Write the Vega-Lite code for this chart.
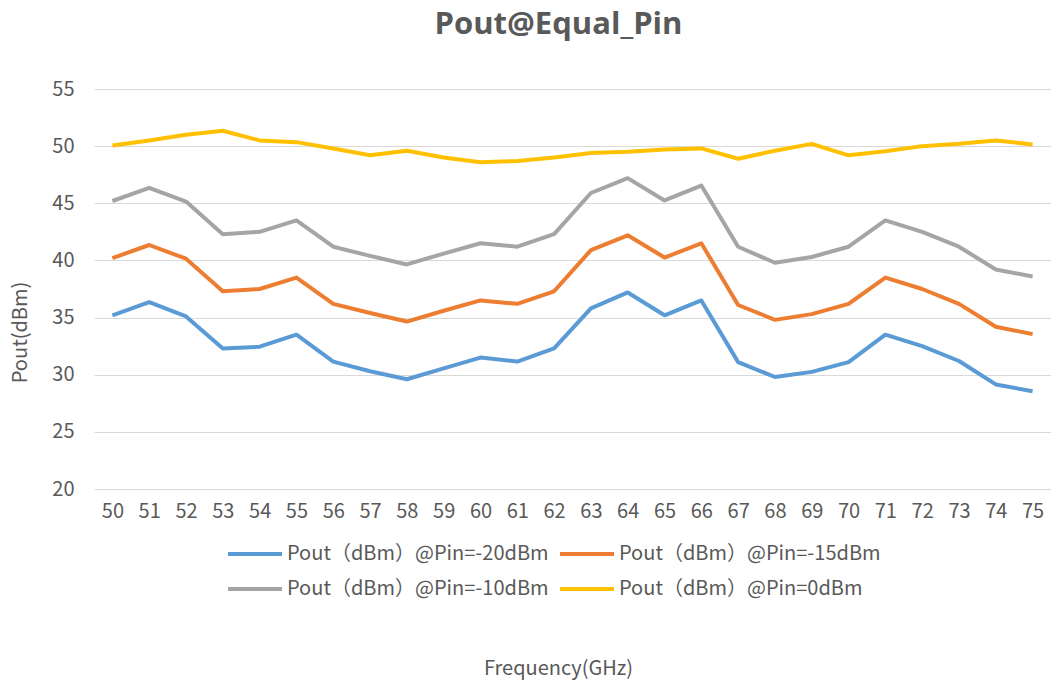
{
  "$schema": "https://vega.github.io/schema/vega-lite/v6.json",
  "width": 957,
  "height": 400,
  "autosize": {"type": "none"},
  "padding": {"left": 94, "top": 89, "right": 0, "bottom": 196},
  "background": "white",
  "title": {"text": "Pout@Equal_Pin", "font": "Open Sans", "fontSize": 31, "fontWeight": "bold", "color": "#595959", "anchor": "middle", "frame": "group", "dx": -14, "offset": 38},
  "config": {
    "view": {"stroke": null},
    "font": "Noto Sans CJK SC"
  },
  "data": {"values": [
    {"f":50,"s":"-20","v":35.2},{"f":51,"s":"-20","v":36.35},{"f":52,"s":"-20","v":35.1},{"f":53,"s":"-20","v":32.3},{"f":54,"s":"-20","v":32.45},{"f":55,"s":"-20","v":33.5},{"f":56,"s":"-20","v":31.15},{"f":57,"s":"-20","v":30.3},{"f":58,"s":"-20","v":29.6},{"f":59,"s":"-20","v":30.55},{"f":60,"s":"-20","v":31.5},{"f":61,"s":"-20","v":31.15},{"f":62,"s":"-20","v":32.3},{"f":63,"s":"-20","v":35.8},{"f":64,"s":"-20","v":37.2},{"f":65,"s":"-20","v":35.2},{"f":66,"s":"-20","v":36.5},{"f":67,"s":"-20","v":31.1},{"f":68,"s":"-20","v":29.8},{"f":69,"s":"-20","v":30.25},{"f":70,"s":"-20","v":31.1},{"f":71,"s":"-20","v":33.5},{"f":72,"s":"-20","v":32.5},{"f":73,"s":"-20","v":31.2},{"f":74,"s":"-20","v":29.15},{"f":75,"s":"-20","v":28.55},
    {"f":50,"s":"-15","v":40.2},{"f":51,"s":"-15","v":41.35},{"f":52,"s":"-15","v":40.15},{"f":53,"s":"-15","v":37.3},{"f":54,"s":"-15","v":37.5},{"f":55,"s":"-15","v":38.5},{"f":56,"s":"-15","v":36.2},{"f":57,"s":"-15","v":35.4},{"f":58,"s":"-15","v":34.65},{"f":59,"s":"-15","v":35.6},{"f":60,"s":"-15","v":36.5},{"f":61,"s":"-15","v":36.2},{"f":62,"s":"-15","v":37.3},{"f":63,"s":"-15","v":40.9},{"f":64,"s":"-15","v":42.2},{"f":65,"s":"-15","v":40.25},{"f":66,"s":"-15","v":41.5},{"f":67,"s":"-15","v":36.1},{"f":68,"s":"-15","v":34.8},{"f":69,"s":"-15","v":35.3},{"f":70,"s":"-15","v":36.2},{"f":71,"s":"-15","v":38.5},{"f":72,"s":"-15","v":37.5},{"f":73,"s":"-15","v":36.2},{"f":74,"s":"-15","v":34.2},{"f":75,"s":"-15","v":33.55},
    {"f":50,"s":"-10","v":45.2},{"f":51,"s":"-10","v":46.35},{"f":52,"s":"-10","v":45.15},{"f":53,"s":"-10","v":42.3},{"f":54,"s":"-10","v":42.5},{"f":55,"s":"-10","v":43.5},{"f":56,"s":"-10","v":41.2},{"f":57,"s":"-10","v":40.4},{"f":58,"s":"-10","v":39.65},{"f":59,"s":"-10","v":40.6},{"f":60,"s":"-10","v":41.5},{"f":61,"s":"-10","v":41.2},{"f":62,"s":"-10","v":42.3},{"f":63,"s":"-10","v":45.9},{"f":64,"s":"-10","v":47.2},{"f":65,"s":"-10","v":45.25},{"f":66,"s":"-10","v":46.55},{"f":67,"s":"-10","v":41.2},{"f":68,"s":"-10","v":39.8},{"f":69,"s":"-10","v":40.3},{"f":70,"s":"-10","v":41.2},{"f":71,"s":"-10","v":43.5},{"f":72,"s":"-10","v":42.5},{"f":73,"s":"-10","v":41.2},{"f":74,"s":"-10","v":39.2},{"f":75,"s":"-10","v":38.6},
    {"f":50,"s":"0","v":50.05},{"f":51,"s":"0","v":50.5},{"f":52,"s":"0","v":51.0},{"f":53,"s":"0","v":51.35},{"f":54,"s":"0","v":50.5},{"f":55,"s":"0","v":50.35},{"f":56,"s":"0","v":49.8},{"f":57,"s":"0","v":49.2},{"f":58,"s":"0","v":49.6},{"f":59,"s":"0","v":49.0},{"f":60,"s":"0","v":48.6},{"f":61,"s":"0","v":48.7},{"f":62,"s":"0","v":49.0},{"f":63,"s":"0","v":49.4},{"f":64,"s":"0","v":49.5},{"f":65,"s":"0","v":49.7},{"f":66,"s":"0","v":49.8},{"f":67,"s":"0","v":48.9},{"f":68,"s":"0","v":49.6},{"f":69,"s":"0","v":50.2},{"f":70,"s":"0","v":49.2},{"f":71,"s":"0","v":49.55},{"f":72,"s":"0","v":50.0},{"f":73,"s":"0","v":50.2},{"f":74,"s":"0","v":50.5},{"f":75,"s":"0","v":50.15}
  ]},
  "mark": {"type": "line", "strokeWidth": 4, "strokeJoin": "round"},
  "encoding": {
    "x": {
      "field": "f", "type": "ordinal",
      "scale": {"type": "point", "padding": 0.5},
      "axis": {
        "title": "Frequency(GHz)", "titleFont": "Noto Sans CJK SC", "titleFontSize": 20, "titleFontWeight": "normal", "titleColor": "#595959",
        "titleX": 464, "titleY": 179, "titleBaseline": "middle", "titleAlign": "center",
        "labelAngle": 0, "labelFontSize": 20, "labelColor": "#595959", "labelPadding": 12,
        "domain": false, "ticks": false, "grid": false
      }
    },
    "y": {
      "field": "v", "type": "quantitative",
      "scale": {"domain": [20, 55], "nice": false, "zero": false},
      "axis": {
        "values": [20, 25, 30, 35, 40, 45, 50, 55],
        "title": "Pout(dBm)", "titleFont": "Noto Sans CJK SC", "titleFontSize": 20, "titleFontWeight": "normal", "titleColor": "#595959",
        "titleX": -74, "titleY": 243, "titleAngle": -90, "titleAlign": "center", "titleBaseline": "middle",
        "labelFontSize": 20, "labelColor": "#595959", "labelPadding": 20,
        "domain": false, "ticks": false, "grid": true, "gridColor": "#D9D9D9", "gridWidth": 1
      }
    },
    "color": {
      "field": "s", "type": "nominal",
      "scale": {"domain": ["-20", "-15", "-10", "0"], "range": ["#5B9BD5", "#ED7D31", "#A5A5A5", "#FFC000"]},
      "legend": {
        "title": null, "orient": "none", "legendX": 149, "legendY": 453,
        "direction": "horizontal", "columns": 2,
        "symbolType": "M-2.7,0H2.7", "symbolSize": 400, "symbolStrokeWidth": 4, "symbolFillColor": "transparent",
        "labelExpr": "'Pout（dBm）@Pin=' + datum.label + 'dBm'",
        "labelFontSize": 20, "labelColor": "#595959", "labelLimit": 500, "labelOffset": 20,
        "columnPadding": 3, "rowPadding": 13
      }
    }
  }
}
